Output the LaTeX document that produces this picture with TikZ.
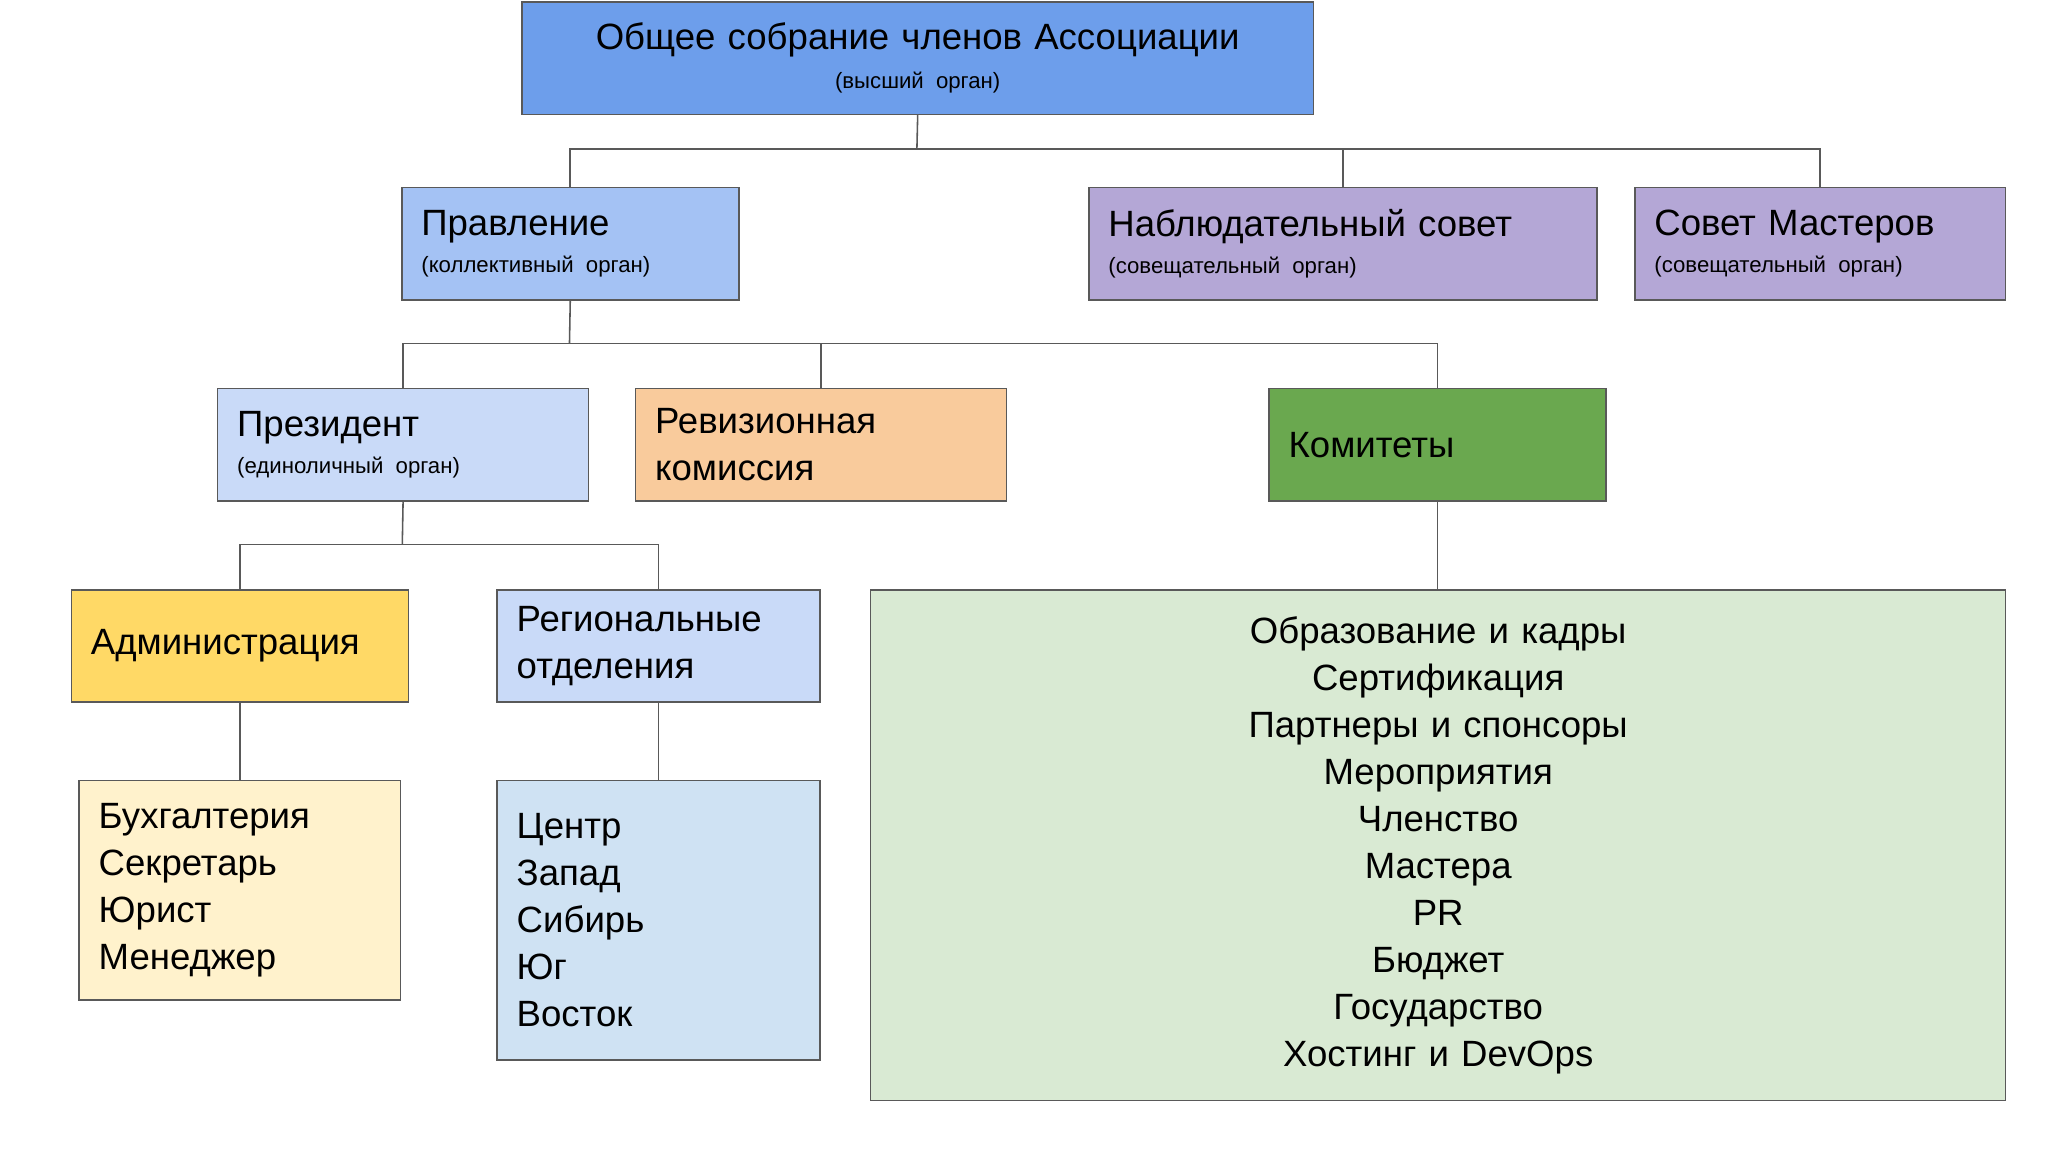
\documentclass[tikz,border=0pt]{standalone}
\usepackage{fontspec}
\setmainfont{Liberation Sans}
\definecolor{cTop}{HTML}{6D9EEB}
\definecolor{cBoard}{HTML}{A4C2F4}
\definecolor{cPurple}{HTML}{B4A7D6}
\definecolor{cPres}{HTML}{C9DAF8}
\definecolor{cRev}{HTML}{F9CB9C}
\definecolor{cKom}{HTML}{6AA84F}
\definecolor{cAdm}{HTML}{FFD966}
\definecolor{cLight}{HTML}{FFF2CC}
\definecolor{cReg}{HTML}{CFE2F3}
\definecolor{cList}{HTML}{D9EAD3}
\definecolor{cLine}{HTML}{595959}
\newcommand{\bigt}{\fontsize{28}{36}\selectfont}
\newcommand{\smt}{\fontsize{17}{22}\selectfont}
\begin{document}
\begin{tikzpicture}[x=1pt,y=-1pt,
  box/.style={draw=cLine, line width=1.2pt, inner ysep=0pt, inner xsep=15pt, anchor=north west, font=\bigt},
  ln/.style={draw=cLine, line width=1.2pt}]
\useasboundingbox (0,0) rectangle (1568,882);
\fill[white] (0,0) rectangle (1568,882);
\newcommand{\bx}[8]{\node[box, fill=#6, text width=#4-30, minimum height=#5, align=#7] (#1) at (#2,#3) {#8};}
\bx{top}{399}{1}{606}{86}{cTop}{center}{Общее собрание членов Ассоциации\\[-6pt]{\smt (высший орган)}}
\bx{prav}{307}{143}{258}{86}{cBoard}{left}{Правление\\[-8pt]{\smt (коллективный орган)}}
\bx{nab}{833}{143}{389}{86}{cPurple}{left}{Наблюдательный совет\\[-8pt]{\smt (совещательный орган)}}
\bx{mas}{1251}{143}{284}{86}{cPurple}{left}{Совет Мастеров\\[-8pt]{\smt (совещательный орган)}}
\bx{pres}{166}{297}{284}{86}{cPres}{left}{Президент\\[-8pt]{\smt (единоличный орган)}}
\bx{rev}{486}{297}{284}{86}{cRev}{left}{Ревизионная\\комиссия}
\bx{kom}{971}{297}{258}{86}{cKom}{left}{Комитеты}
\bx{adm}{54}{451}{258}{86}{cAdm}{left}{Администрация}
\bx{reg}{380}{451}{247}{86}{cPres}{left}{Региональные\\отделения}
\bx{buh}{60}{597}{246}{168}{cLight}{left}{Бухгалтерия\\Секретарь\\Юрист\\Менеджер}
\bx{regl}{380}{597}{247}{214}{cReg}{left}{Центр\\Запад\\Сибирь\\Юг\\Восток}
\bx{koml}{666}{451}{869}{391}{cList}{center}{Образование и кадры\\Сертификация\\Партнеры и спонсоры\\Мероприятия\\Членство\\Мастера\\PR\\Бюджет\\Государство\\Хостинг и DevOps}
\coordinate (j1) at (702,114);
\coordinate (j2) at (436,263);
\coordinate (j3) at (308,417);
\draw[ln] (top.south) -- (j1);
\draw[ln] (j1) -| (prav.north);
\draw[ln] (j1) -| (nab.north);
\draw[ln] (j1) -| (mas.north);
\draw[ln] (prav.south) -- (j2);
\draw[ln] (j2) -| (pres.north);
\draw[ln] (j2) -| (rev.north);
\draw[ln] (j2) -| (kom.north);
\draw[ln] (pres.south) -- (j3);
\draw[ln] (j3) -| (adm.north);
\draw[ln] (j3) -| (reg.north);
\draw[ln] (adm.south) -- (adm.south |- buh.north);
\draw[ln] (reg.south) -- (regl.north);
\draw[ln] (kom.south) -- (koml.north -| kom.south);
\end{tikzpicture}
\end{document}
